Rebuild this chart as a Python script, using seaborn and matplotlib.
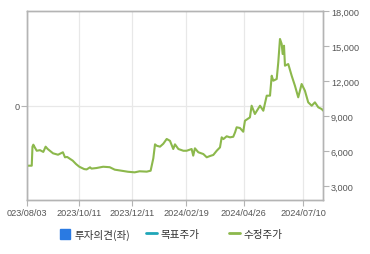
import matplotlib
matplotlib.use("Agg")
import matplotlib.pyplot as plt
from matplotlib.lines import Line2D
from matplotlib.ticker import FuncFormatter
import seaborn as sns
import pandas as pd

# ---- data (trading-day index since 2023/08/03, adjusted price) ----
day_index = [0, 3.9, 4.5, 5.2, 6.6, 8.0, 10.7, 13.4, 15.3, 17.0, 21.4, 25.5, 29.5, 31.2, 33.0,
             37.6, 40.3, 43.0, 47.0, 49.0, 51.8, 53.0, 57.1, 62.6, 68.0, 72.1, 77.6,
             83.0, 88.5, 92.5, 98.4, 101.6, 103.8, 105.2, 106.6, 109.3, 112, 114.8, 117.5,
             120.2, 121.6, 124.4, 128.5, 131.2, 135.3, 136.6, 138, 140.8, 144.9, 147.7,
             150.4, 153.1, 155.9, 158.6, 160, 161.4, 164.1, 166.8, 169.5, 171.0, 172.3,
             175, 177.7, 179.1, 183.2, 184.6, 187.3, 191.5, 194.2, 197, 199.7, 201.1, 202.4,
             205.2, 206.5, 207.9, 209.3, 210.1, 211.2, 212, 214.7, 217.5, 220.2, 222.9,
             225.7, 228.4, 231.1, 234, 236.6, 239.4, 242.1, 243.5]
adj_price = [4770, 4770, 6400, 6570, 6300, 6050, 6100, 5950, 6400, 6200, 5830, 5710, 5920, 5490,
             5520, 5200, 4910, 4680, 4480, 4450, 4630, 4520, 4570, 4680, 4640, 4430, 4340,
             4250, 4200, 4290, 4260, 4340, 5400, 6600, 6480, 6400, 6650, 7060, 6900,
             6200, 6600, 6200, 6050, 6050, 6200, 5630, 6260, 5920, 5770, 5490,
             5600, 5690, 6050, 6340, 7200, 7050, 7290, 7200, 7250, 7630, 8060,
             8000, 7680, 8620, 8910, 9910, 9200, 9910, 9480, 10770, 10770, 12480, 12050,
             12200, 13630, 15630, 15200, 14340, 15050, 13340, 13480, 12480, 11620, 10630,
             11770, 11190, 10200, 9910, 10200, 9770, 9630, 9480]
tick_days = [0, 43, 86, 131, 178, 227]
tick_labels = ["023/08/03", "2023/10/11", "2023/12/11", "2024/02/19", "2024/04/26", "2024/07/10"]
price_ticks = [3000, 6000, 9000, 12000, 15000, 18000]
legend_labels = ["투자의견(좌)", "목표주가", "수정주가"]

GREEN = "#8cb84c"
BLUE = "#2a7ae2"
CYAN = "#1fa6b8"
SPINE = "#b4b4b4"
TXT = "#555555"
GRID = "#e8e8e8"

sns.set_theme(style="white")
plt.rcParams['font.family'] = ['Liberation Sans', 'Noto Sans CJK KR', 'DejaVu Sans']

fig = plt.figure(figsize=(3.7, 2.55), dpi=100)
ax = fig.add_axes([27 / 370, 1 - 201 / 255, (323.3 - 27) / 370, (201 - 12.3) / 255])

df = pd.DataFrame({"day": day_index, "price": adj_price})

ax.set_ylim(-1, 1)
ax.set_yticks([0])
ax.set_yticklabels(["0"])
ax.set_xlim(0, 243.5)
ax.set_xticks(tick_days)
ax.set_xticklabels(tick_labels)
ax.grid(True, color=GRID, lw=0.9)
for s in ax.spines.values():
    s.set_color(SPINE)
    s.set_linewidth(1.0)
ax.tick_params(axis='both', length=4, width=0.8, color=SPINE, labelcolor=TXT,
               labelsize=6.6, pad=1.5, direction='out', left=True, bottom=True)

ax2 = ax.twinx()
sns.lineplot(data=df, x="day", y="price", ax=ax2, color=GREEN, lw=1.5, legend=False)
ax2.set_xlim(0, 243.5)
ax2.set_ylim(1830, 18000)
ax2.set_yticks(price_ticks)
ax2.yaxis.set_major_formatter(FuncFormatter(lambda v, p: f"{int(v):,}"))
ax2.set_xlabel("")
ax2.set_ylabel("")
ax2.grid(False)
for s in ax2.spines.values():
    s.set_color(SPINE)
    s.set_linewidth(1.0)
ax2.tick_params(axis='y', length=4, width=0.8, color=SPINE, labelcolor=TXT,
                labelsize=6.6, pad=1.5, direction='out', right=True)

prop = {'family': ['Noto Sans CJK KR', 'DejaVu Sans'], 'size': 7.6}
handles = [
    Line2D([], [], marker='s', ls='none', color=BLUE, markersize=7),
    Line2D([], [], color=CYAN, lw=2),
    Line2D([], [], color=GREEN, lw=2),
]
anchors_x = [60, 146, 229]
for h, lab, x in zip(handles, legend_labels, anchors_x):
    fig.legend(handles=[h], labels=[lab], loc='center left',
               bbox_to_anchor=(x / 370, 1 - 235 / 255), frameon=False,
               prop=prop, handlelength=1.0, handletextpad=0.35,
               borderpad=0, borderaxespad=0, labelcolor="#333333")

fig.savefig("out.png", dpi=100, facecolor="white")
